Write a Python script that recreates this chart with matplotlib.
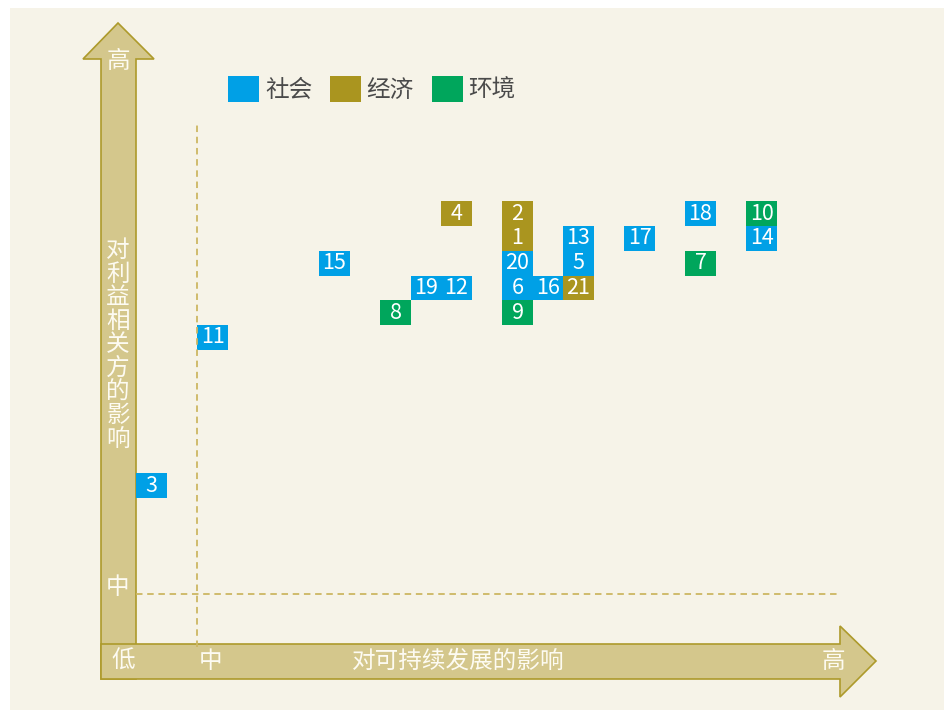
import matplotlib
matplotlib.use("Agg")
import matplotlib.pyplot as plt
from matplotlib.patches import Polygon, Rectangle, Patch

plt.rcParams['font.family'] = ['Noto Sans CJK SC', 'DejaVu Sans']

# issue number, category, position on the matrix (grid units)
issues = [3, 11, 15, 8, 19, 12, 4, 2, 1, 20, 6, 9, 16, 13, 5, 21, 17, 18, 7, 10, 14]
category = ['社会', '社会', '社会', '环境', '社会', '社会', '经济', '经济', '经济', '社会', '社会',
            '环境', '社会', '社会', '社会', '经济', '社会', '社会', '环境', '环境', '社会']
sustain_impact = [0, 2, 6, 8, 9, 10, 10, 12, 12, 12, 12, 12, 13, 14, 14, 14, 16, 18, 18, 20, 20]
stake_impact = [0, 6, 9, 7, 8, 8, 11, 11, 10, 9, 8, 7, 8, 10, 9, 8, 10, 11, 9, 11, 10]

categories = ['社会', '经济', '环境']
colors = {'社会': '#00a0e6', '经济': '#aa951f', '环境': '#00a65c'}

mid_x = 1.5    # "中" threshold, sustainability axis
mid_y = -4.4   # "中" threshold, stakeholder axis

W, H = 944, 710
fig = plt.figure(figsize=(W / 100, H / 100), dpi=100)
fig.patch.set_facecolor('white')

# background / arrows in pixel coordinates
bg = fig.add_axes([0, 0, 1, 1])
bg.set_xlim(0, W)
bg.set_ylim(H, 0)
bg.axis('off')
bg.add_patch(Rectangle((10, 8), W - 10, H - 8, facecolor='#f6f3e8', edgecolor='none'))

arrow_fill = '#d4c78c'
arrow_edge = '#ad9a2b'
varrow = [(101, 679), (101, 59), (83, 59), (118, 23), (154, 59), (136, 59), (136, 679)]
harrow = [(101, 644), (840, 644), (840, 626), (876, 661), (840, 697), (840, 679), (101, 679)]
bg.add_patch(Polygon(varrow, closed=True, facecolor=arrow_fill, edgecolor=arrow_edge, lw=1.2))
bg.add_patch(Polygon(harrow, closed=True, facecolor=arrow_fill, edgecolor=arrow_edge, lw=1.2))

tc = '#fdfbf2'
bg.text(118, 62, '高', color=tc, fontsize=17, ha='center', va='center')
bg.text(118, 587, '中', color=tc, fontsize=17, ha='center', va='center')
bg.text(118, 345, '\n'.join('对利益相关方的影响'), color=tc, fontsize=17,
        ha='center', va='center', linespacing=1.03)
bg.text(123, 661, '低', color=tc, fontsize=17, ha='center', va='center')
bg.text(211, 661, '中', color=tc, fontsize=17, ha='center', va='center')
bg.text(458, 661, '对可持续发展的影响', color=tc, fontsize=17, ha='center', va='center')
bg.text(833, 661, '高', color=tc, fontsize=17, ha='center', va='center')

# data axes, grid units
ax = fig.add_axes([0, 0, 1, 1])
ax.patch.set_alpha(0)
ax.set_xlim(-151.5 / 30.5, (W - 151.5) / 30.5)
ax.set_ylim(-224.5 / 24.7, (H - 224.5) / 24.7)
ax.axis('off')

dash_c = '#cdb762'
ax.vlines(mid_x, -6.55, 14.65, colors=dash_c, lw=1.3, linestyles=(0, (3.6, 2.6)))
ax.hlines(mid_y, -0.5, 22.5, colors=dash_c, lw=1.3, linestyles=(0, (3.6, 2.6)))

for n, c, x, y in zip(issues, category, sustain_impact, stake_impact):
    ax.bar(x, 1, bottom=y - 0.5, width=1, color=colors[c], linewidth=0)
    ax.text(x, y, str(n), color='white', fontsize=15.5, ha='center', va='center')

handles = [Patch(facecolor=colors[c], edgecolor='none', label=c) for c in categories]
leg = fig.legend(handles=handles, loc='upper left', bbox_to_anchor=(228 / W, 1 - 76 / H),
                 ncol=3, frameon=False, fontsize=17, handlelength=1.31, handleheight=1.3,
                 handletextpad=0.25, columnspacing=0.75, borderpad=0, borderaxespad=0)
for t in leg.get_texts():
    t.set_color('#4a4a4a')

fig.savefig('out.png', dpi=100, facecolor=fig.get_facecolor())
